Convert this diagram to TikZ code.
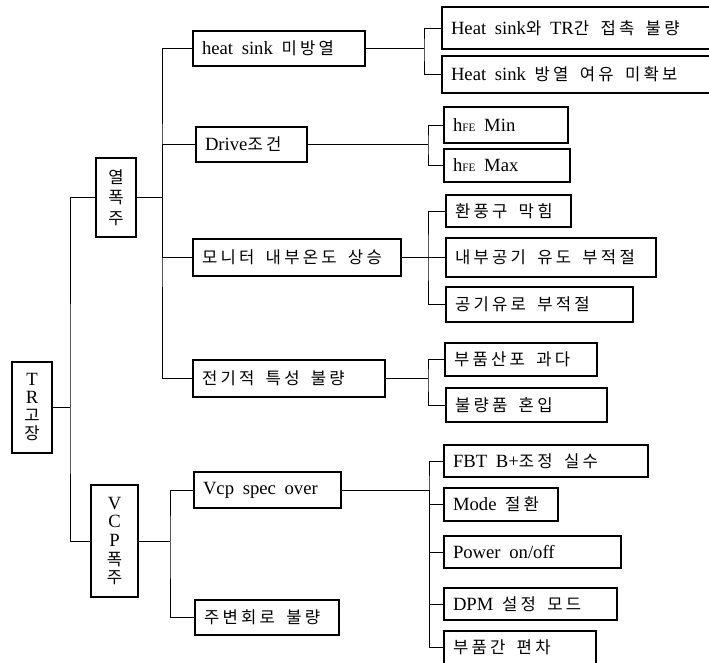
\documentclass[tikz,border=0pt]{standalone}
\usepackage{fontspec}
\setmainfont{Liberation Serif}
\newfontfamily\kr{Noto Sans CJK KR}
\newcommand\Ksp{2.4pt}
\newcommand\Kspace{8.5pt}
\def\Kend{\Kend}
\def\Kloop#1{\ifx#1\Kend\unkern\else#1\kern\Ksp\expandafter\Kloop\fi}
\def\Kw#1 #2\Kstop{\Kloop#1\Kend\ifx\relax#2\relax\else\hspace{\Kspace}\Kw#2\Kstop\fi}
\newcommand\K[1]{{\kr\fontsize{12.5}{14}\selectfont\Kw#1 \Kstop}}
\newcommand\fe{{\fontsize{8.5}{9}\selectfont FE}}
\newskip\wideskip \wideskip=6.5pt plus 1pt
\tikzset{
  bxs/.style={draw, line width=0.8pt, inner xsep=6.75pt, inner ysep=0pt, align=left,
    font=\fontsize{14}{16}\selectfont},
  vbxs/.style={draw, line width=0.8pt, inner sep=0pt, align=center},
  conn/.style={line width=0.65pt}
}
\newcommand\bx[6]{%
  \pgfmathsetmacro\bxw{(#4-#2)*0.75}%
  \pgfmathsetmacro\bxh{(#5-#3)*0.75}%
  \pgfmathsetmacro\bxtw{(#4-#2-18)*0.75}%
  \node[bxs, minimum width=\bxw pt, minimum height=\bxh pt, text width=\bxtw pt] (#1) at ({(#2+#4)/2},{(#3+#5)/2}) {\spaceskip\wideskip #6};}
\newcommand\vbx[7]{%
  \pgfmathsetmacro\bxw{(#4-#2)*0.75}%
  \pgfmathsetmacro\bxh{(#5-#3)*0.75}%
  \node[vbxs, minimum width=\bxw pt, minimum height=\bxh pt, font=\fontsize{14}{#6}\selectfont] (#1) at ({(#2+#4)/2},{(#3+#5)/2}) {#7};}
\begin{document}
\begin{tikzpicture}[x=0.75pt,y=-0.75pt]
\useasboundingbox (0,0) rectangle (709,662);
\clip (0,0) rectangle (709,662);
% level 0/1 vertical boxes
\vbx{tr}{12}{362}{52}{453}{13.5}{T\\R\\\K{고}\\\K{장}}
\vbx{yeol}{96}{158}{136}{237}{15.5}{\K{열}\\\K{폭}\\\K{주}}
\vbx{vcp}{91}{485}{138}{597}{14}{V\\C\\P\\\K{폭}\\\K{주}}
% level 2
\bx{hs}{193}{31}{365}{66}{heat sink \K{미방열}}
\bx{drv}{196}{127}{307}{162}{Drive\K{조건}}
\bx{mon}{193}{239}{401}{276}{\K{모니터 내부온도 상승}}
\bx{el}{193}{360}{385}{397}{\K{전기적 특성 불량}}
\bx{vs}{194}{472}{341}{508}{Vcp spec over}
\bx{jb}{195}{600}{339}{635}{\K{주변회로 불량}}
% level 3
\bx{a1}{442}{7}{760}{49}{Heat sink\K{와} TR\K{간 접촉 불량}}
\bx{a2}{442}{56}{760}{93}{Heat sink \K{방열 여유 미확보}}
\bx{h1}{444}{107}{568}{143}{h\fe{} Min}
\bx{h2}{444}{149}{570}{182}{h\fe{} Max}
\bx{m1}{446}{195}{571}{227}{\K{환풍구 막힘}}
\bx{m2}{446}{238}{656}{277}{\K{내부공기 유도 부적절}}
\bx{m3}{446}{287}{633}{322}{\K{공기유로 부적절}}
\bx{e1}{445}{343}{597}{376}{\K{부품산포 과다}}
\bx{e2}{446}{388}{607}{422}{\K{불량품 혼입}}
\bx{v1}{444}{445}{648}{477}{FBT B+\K{조정 실수}}
\bx{v2}{444}{488}{558}{521}{Mode \K{절환}}
\bx{v3}{444}{536}{621}{568}{Power on/off}
\bx{v4}{444}{588}{617}{620}{DPM \K{설정 모드}}
\bx{v5}{444}{631}{596}{664}{\K{부품간 편차}}
% junctions
\coordinate (L) at (70,407.5);
\coordinate (Y) at (162,197.5);
\coordinate (H) at (424,48.5);
\coordinate (D) at (428,144.5);
\coordinate (M) at (428,257.5);
\coordinate (E) at (428,378.5);
\coordinate (V) at (170,541);
\coordinate (S) at (429,490);
% connectors
\draw[conn] (tr.east) -- (L);
\draw[conn] (yeol.west) -| (L) |- (vcp.west);
\draw[conn] (yeol.east) -- (Y);
\draw[conn] (hs.west) -| (Y) |- (el.west);
\draw[conn] (Y) |- (drv.west);
\draw[conn] (Y) |- (mon.west);
\draw[conn] (hs.east) -- (H);
\draw[conn] (a1.west) -| (H) |- (a2.west);
\draw[conn] (drv.east) -- (D);
\draw[conn] (h1.west) -| (D) |- (h2.west);
\draw[conn] (mon.east) -- (M) -- (m2.west);
\draw[conn] (m1.west) -| (M) |- (m3.west);
\draw[conn] (el.east) -- (E);
\draw[conn] (e1.west) -| (E) |- (e2.west);
\draw[conn] (vcp.east) -- (V);
\draw[conn] (vs.west) -| (V) |- (jb.west);
\draw[conn] (vs.east) -- (S);
\draw[conn] (v1.west) -| (S) |- (v5.west);
\draw[conn] (S) |- (v2.west);
\draw[conn] (S) |- (v3.west);
\draw[conn] (S) |- (v4.west);
\end{tikzpicture}
\end{document}
